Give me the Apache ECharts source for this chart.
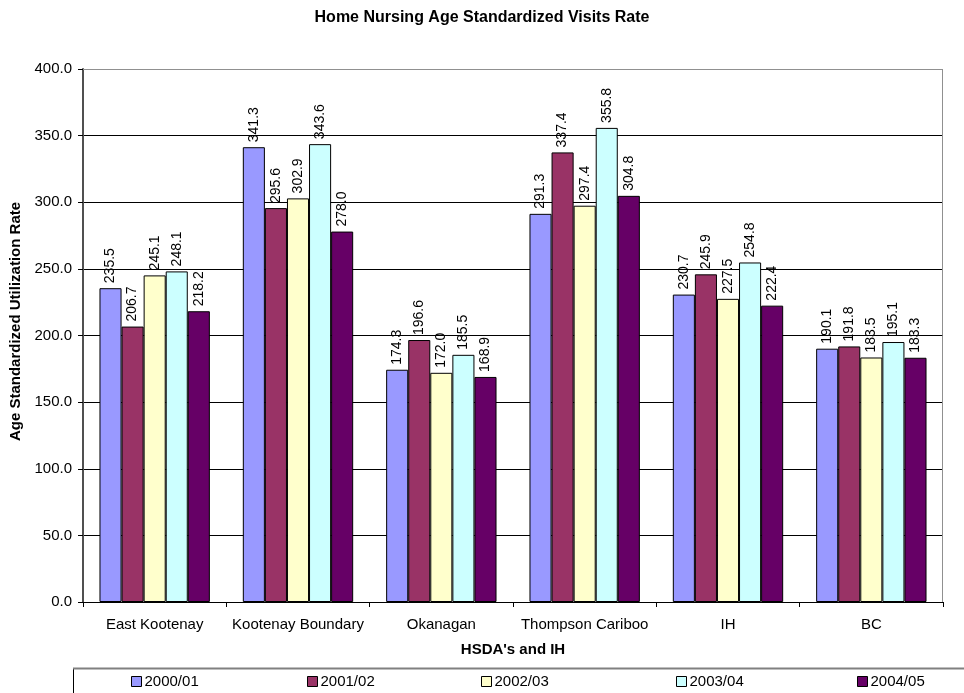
<!DOCTYPE html>
<html>
<head>
<meta charset="utf-8">
<script src="https://cdn.jsdelivr.net/npm/echarts@6/dist/echarts.min.js"></script>
<style>
  html, body { margin: 0; padding: 0; background: #fff; }
  #chart { width: 964px; height: 693px; }
</style>
</head>
<body>
<div id="chart"></div>
<script>
// Regions (health service delivery areas plus IH and BC totals)
const categories = ['East Kootenay', 'Kootenay Boundary', 'Okanagan', 'Thompson Cariboo', 'IH', 'BC'];
const years = ['2000/01', '2001/02', '2002/03', '2003/04', '2004/05'];
const y2000 = [235.5, 341.3, 174.3, 291.3, 230.7, 190.1];
const y2001 = [206.7, 295.6, 196.6, 337.4, 245.9, 191.8];
const y2002 = [245.1, 302.9, 172.0, 297.4, 227.5, 183.5];
const y2003 = [248.1, 343.6, 185.5, 355.8, 254.8, 195.1];
const y2004 = [218.2, 278.0, 168.9, 304.8, 222.4, 183.3];
const yTicks = [0, 50, 100, 150, 200, 250, 300, 350, 400];

const seriesValues = [y2000, y2001, y2002, y2003, y2004];
const colors = ['#9999FF', '#993366', '#FFFFCC', '#CCFFFF', '#660066'];
const legendLeft = [131, 307, 481, 676, 857];
const font = 'Arial, "Liberation Sans", sans-serif';

const chart = echarts.init(document.getElementById('chart'));
chart.setOption({
  animation: false,
  backgroundColor: '#fff',
  title: {
    text: 'Home Nursing Age Standardized Visits Rate',
    left: 'center',
    top: 5,
    textStyle: { fontFamily: font, fontSize: 16, fontWeight: 'bold', color: '#000' }
  },
  graphic: [
    // legend frame
    { type: 'rect', shape: { x: 73.5, y: 668.5, width: 900, height: 40 },
      style: { fill: 'none', stroke: '#000', lineWidth: 1 } },
    { type: 'line', shape: { x1: 73, y1: 668.5, x2: 964, y2: 668.5 },
      style: { stroke: '#808080', lineWidth: 2 } },
    // plot frame: grey top and right edges
    { type: 'line', shape: { x1: 83, y1: 69.5, x2: 943, y2: 69.5 },
      style: { stroke: '#909090', lineWidth: 1 }, z: 5 },
    { type: 'line', shape: { x1: 942.5, y1: 69, x2: 942.5, y2: 602 },
      style: { stroke: '#909090', lineWidth: 1 }, z: 5 }
  ],
  legend: years.map((y, i) => ({
    data: [{ name: y, icon: 'rect' }],
    left: legendLeft[i],
    top: 674,
    itemWidth: 10,
    itemHeight: 10,
    itemGap: 0,
    padding: 0,
    textStyle: { fontFamily: font, fontSize: 15, color: '#000', padding: [0, 0, 0, -2] },
    itemStyle: { borderColor: '#000', borderWidth: 1 }
  })),
  grid: { left: 83, right: 21, top: 69, bottom: 91 },
  xAxis: {
    type: 'category',
    data: categories,
    name: "HSDA's and IH",
    nameLocation: 'middle',
    nameGap: 40,
    nameTextStyle: { fontFamily: font, fontSize: 15, fontWeight: 'bold', color: '#000' },
    axisLine: { lineStyle: { color: '#000', width: 1 } },
    axisTick: { show: true, alignWithLabel: false, length: 5, lineStyle: { color: '#000' } },
    axisLabel: { interval: 0, fontFamily: font, fontSize: 15, color: '#000', margin: 15 }
  },
  yAxis: {
    type: 'value',
    min: 0,
    max: 400,
    interval: 50,
    name: 'Age Standardized Utilization Rate',
    nameLocation: 'middle',
    nameGap: 58,
    nameTextStyle: { fontFamily: font, fontSize: 15, fontWeight: 'bold', color: '#000', padding: [0, 0, 0, 28] },
    axisLine: { show: true, lineStyle: { color: '#505050', width: 2 } },
    axisTick: { show: true, length: 5, lineStyle: { color: '#000' } },
    axisLabel: {
      fontFamily: font, fontSize: 15, color: '#000', margin: 11,
      formatter: v => yTicks.includes(v) ? v.toFixed(1) : ''
    },
    splitLine: { show: true, lineStyle: { color: '#000', width: 1 } }
  },
  series: years.map((y, i) => ({
    name: y,
    type: 'bar',
    data: seriesValues[i],
    barGap: '0%',
    barCategoryGap: '23%',
    itemStyle: { color: colors[i], borderColor: '#000', borderWidth: 1 },
    label: {
      show: true,
      position: 'top',
      rotate: 90,
      align: 'left',
      verticalAlign: 'middle',
      distance: 5,
      fontFamily: font,
      fontSize: 14,
      color: '#000',
      formatter: p => p.value.toFixed(1)
    }
  }))
});
</script>
</body>
</html>
